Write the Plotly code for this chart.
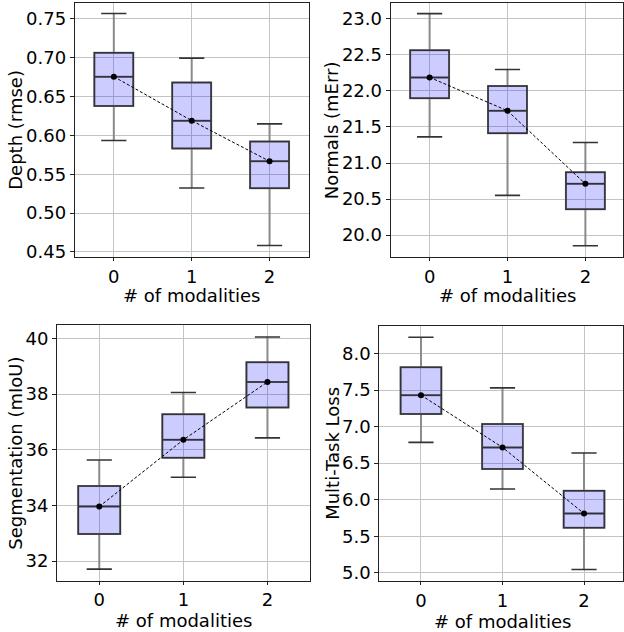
import plotly.graph_objects as go

# ---------------- data ----------------
modalities = [0, 1, 2]
x_label = "# of modalities"

depth_lower = [0.5935, 0.5323, 0.4583]
depth_q1 = [0.6378, 0.5833, 0.5319]
depth_median = [0.6756, 0.6190, 0.5667]
depth_q3 = [0.7063, 0.6680, 0.5922]
depth_upper = [0.7568, 0.6994, 0.6148]

normals_lower = [21.362, 20.551, 19.853]
normals_q1 = [21.899, 21.413, 20.358]
normals_median = [22.188, 21.725, 20.711]
normals_q3 = [22.564, 22.069, 20.872]
normals_upper = [23.073, 22.298, 21.284]

seg_lower = [31.716, 35.015, 36.427]
seg_q1 = [32.974, 35.715, 37.519]
seg_median = [33.960, 36.356, 38.433]
seg_q3 = [34.694, 37.270, 39.145]
seg_upper = [35.632, 38.053, 40.047]

mtl_lower = [6.783, 6.145, 5.045]
mtl_q1 = [7.172, 6.421, 5.615]
mtl_median = [7.430, 6.715, 5.810]
mtl_q3 = [7.810, 7.036, 6.122]
mtl_upper = [8.222, 7.529, 6.638]

panels = [
    dict(title="Depth (rmse)", lower=depth_lower, q1=depth_q1, med=depth_median,
         q3=depth_q3, upper=depth_upper,
         ticks=[0.45, 0.50, 0.55, 0.60, 0.65, 0.70, 0.75], fmt=".2f"),
    dict(title="Normals (mErr)", lower=normals_lower, q1=normals_q1, med=normals_median,
         q3=normals_q3, upper=normals_upper,
         ticks=[20.0, 20.5, 21.0, 21.5, 22.0, 22.5, 23.0], fmt=".1f"),
    dict(title="Segmentation (mIoU)", lower=seg_lower, q1=seg_q1, med=seg_median,
         q3=seg_q3, upper=seg_upper,
         ticks=[32, 34, 36, 38, 40], fmt="d"),
    dict(title="Multi-Task Loss", lower=mtl_lower, q1=mtl_q1, med=mtl_median,
         q3=mtl_q3, upper=mtl_upper,
         ticks=[5.0, 5.5, 6.0, 6.5, 7.0, 7.5, 8.0], fmt=".1f"),
]

# ---------------- layout geometry (pixels) ----------------
W, H = 624, 632
geo = [
    dict(x=(75, 309), y=(3, 259), xr=(-0.5, 2.5), yr=(0.4436, 0.7704),
         xt=(192, 298.3), yt=(15.8, 131)),
    dict(x=(391.3, 624), y=(3, 259), xr=(-0.5, 2.483), yr=(19.697, 23.22),
         xt=(508.5, 298.3), yt=(332.8, 131)),
    dict(x=(57.3, 310), y=(328, 585.3), xr=(-0.5, 2.5), yr=(31.30, 40.463),
         xt=(183.5, 625.0), yt=(15.8, 456.6)),
    dict(x=(380, 624), y=(328.3, 586), xr=(-0.51, 2.478), yr=(4.882, 8.380),
         xt=(503, 626.0), yt=(332.8, 457.2)),
]

FONT = "DejaVu Sans"
FS = 18
EDGE = "#333333"
WHISK = "#8a8a8a"
FILL = "rgba(0,0,255,0.2)"

fig = go.Figure()
layout = dict(
    width=W, height=H, margin=dict(l=0, r=0, t=0, b=0),
    paper_bgcolor="white", plot_bgcolor="white",
    showlegend=False, boxmode="overlay",
    font=dict(family=FONT, size=FS, color="black"),
)
annotations = []

for i, (p, g) in enumerate(zip(panels, geo)):
    sfx = "" if i == 0 else str(i + 1)
    xa, ya = "x" + sfx, "y" + sfx

    # whiskers (gray)
    fig.add_trace(go.Box(
        x=modalities, q1=p["q1"], median=p["med"], q3=p["q3"],
        lowerfence=p["lower"], upperfence=p["upper"],
        width=0.5, whiskerwidth=0, boxpoints=False,
        line=dict(color=WHISK, width=2), fillcolor="rgba(0,0,0,0)",
        xaxis=xa, yaxis=ya, hoverinfo="skip"))
    # box body (dark edge)
    fig.add_trace(go.Box(
        x=modalities, q1=p["q1"], median=p["med"], q3=p["q3"],
        lowerfence=p["q1"], upperfence=p["q3"],
        width=0.5, whiskerwidth=0, boxpoints=False,
        line=dict(color=EDGE, width=1.5), fillcolor=FILL,
        xaxis=xa, yaxis=ya, hoverinfo="skip"))
    # whisker caps
    fig.add_trace(go.Scatter(
        x=modalities + modalities, y=p["lower"] + p["upper"], mode="markers",
        marker=dict(symbol="line-ew", size=18, line=dict(color=EDGE, width=1.6)),
        xaxis=xa, yaxis=ya, hoverinfo="skip"))
    # dashed line through centres
    fig.add_trace(go.Scatter(
        x=modalities, y=p["med"], mode="lines+markers",
        line=dict(color="black", width=1, dash="3px,2px"),
        marker=dict(color="black", size=6),
        xaxis=xa, yaxis=ya, hoverinfo="skip"))

    axis_common = dict(
        showline=True, linecolor="#222222", linewidth=1.2, mirror=True,
        showgrid=True, gridcolor="#c4c4c4", gridwidth=1,
        ticks="outside", ticklen=4, tickcolor="#222222",
        tickfont=dict(family=FONT, size=FS, color="black"),
        zeroline=False,
    )
    layout["xaxis" + sfx] = dict(
        axis_common,
        domain=[g["x"][0] / W, g["x"][1] / W],
        range=list(g["xr"]), tickvals=modalities,
        ticktext=[str(m) for m in modalities],
        ticklen=3,
        anchor=ya,
    )
    layout["yaxis" + sfx] = dict(
        axis_common,
        domain=[1 - g["y"][1] / H, 1 - g["y"][0] / H],
        range=list(g["yr"]), tickvals=p["ticks"], tickformat=p["fmt"],
        anchor=xa,
    )
    annotations.append(dict(
        text=x_label, xref="paper", yref="paper",
        x=g["xt"][0] / W, y=1 - g["xt"][1] / H,
        xanchor="center", yanchor="middle", showarrow=False,
        font=dict(family=FONT, size=FS, color="black")))
    annotations.append(dict(
        text=p["title"], xref="paper", yref="paper", textangle=-90,
        x=g["yt"][0] / W, y=1 - g["yt"][1] / H,
        xanchor="center", yanchor="middle", showarrow=False,
        font=dict(family=FONT, size=FS, color="black")))

layout["annotations"] = annotations
fig.update_layout(**layout)
fig.write_html(
    "out.html",
    config={"displayModeBar": False},
    post_script="document.body.style.margin='0';document.body.style.overflow='hidden';",
)
